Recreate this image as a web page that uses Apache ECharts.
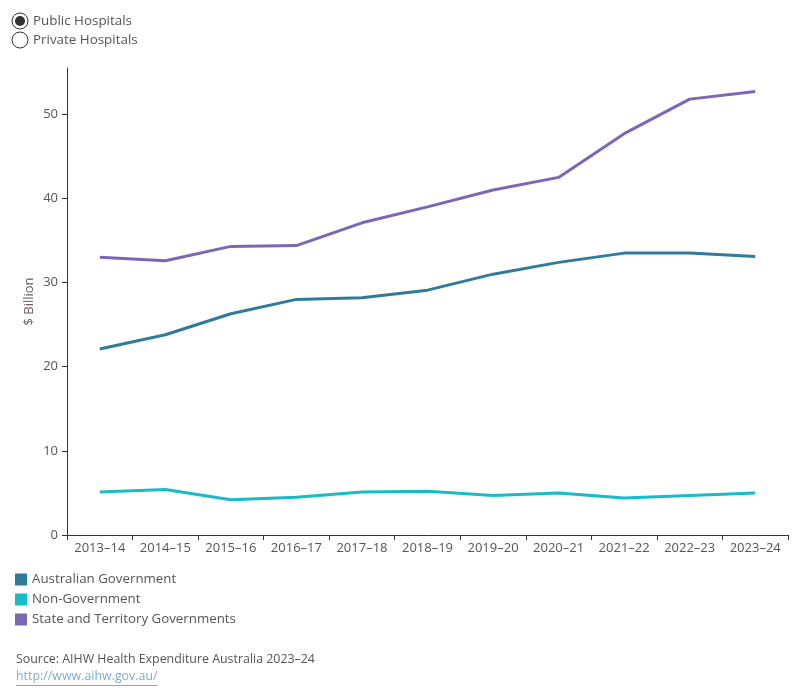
<!DOCTYPE html>
<html>
<head>
<meta charset="utf-8">
<script src="https://cdn.jsdelivr.net/npm/echarts@6/dist/echarts.min.js"></script>
<style>
html,body{margin:0;padding:0;background:#fff;}
#chart{width:800px;height:700px;}
</style>
</head>
<body>
<div id="chart"></div>
<script>
const categories = ['2013–14','2014–15','2015–16','2016–17','2017–18','2018–19','2019–20','2020–21','2021–22','2022–23','2023–24'];
const australianGovernment = [22.1, 23.8, 26.3, 28.0, 28.2, 29.1, 31.0, 32.4, 33.5, 33.5, 33.1];
const nonGovernment = [5.1, 5.4, 4.2, 4.5, 5.1, 5.2, 4.7, 5.0, 4.4, 4.7, 5.0];
const stateTerritory = [33.0, 32.6, 34.3, 34.4, 37.1, 39.0, 41.0, 42.5, 47.7, 51.8, 52.7];
const yTicks = [0, 10, 20, 30, 40, 50];
const seriesNames = ['Australian Government', 'Non-Government', 'State and Territory Governments'];
const colors = ['#2E7C99', '#17BCC8', '#7B67B5'];
const radioLabels = ['Public Hospitals', 'Private Hospitals'];
const sourceText = 'Source: AIHW Health Expenditure Australia 2023–24';
const linkText = 'http://www.aihw.gov.au/';

const FONT = 'Open Sans';
const chart = echarts.init(document.getElementById('chart'), null, {renderer: 'canvas'});

const seriesData = [australianGovernment, nonGovernment, stateTerritory];

const srcFont = '12.4px "' + FONT + '"';
const mctx = document.createElement('canvas').getContext('2d');
mctx.font = srcFont;
const linkWidth = mctx.measureText(linkText).width;

const option = {
  animation: false,
  textStyle: {fontFamily: FONT},
  grid: {left: 67, right: 12, top: 68, bottom: 165, containLabel: false},
  legend: {
    orient: 'vertical', left: 10, top: 568,
    icon: 'rect', itemWidth: 12, itemHeight: 12, itemGap: 7,
    textStyle: {fontFamily: FONT, fontSize: 13.3, color: '#555'},
    data: seriesNames, selectedMode: false
  },
  xAxis: {
    type: 'category', data: categories, boundaryGap: true,
    axisLine: {lineStyle: {color: '#333', width: 1}},
    axisTick: {show: true, length: 5, lineStyle: {color: '#333'}},
    axisLabel: {fontFamily: FONT, fontSize: 13, color: '#555', margin: 7, interval: 0}
  },
  yAxis: {
    type: 'value', min: 0, max: 55.5,
    name: '$ Billion', nameLocation: 'middle', nameGap: 31, nameRotate: 90,
    nameMoveOverlap: false,
    nameTextStyle: {fontFamily: FONT, fontSize: 13, color: '#6a6060'},
    splitLine: {show: false},
    axisLine: {show: true, lineStyle: {color: '#333', width: 1}},
    axisTick: {show: true, length: 5, lineStyle: {color: '#333'}, customValues: yTicks},
    axisLabel: {fontFamily: FONT, fontSize: 13, color: '#555', margin: 9, customValues: yTicks}
  },
  series: seriesNames.map((n, i) => ({
    name: n, type: 'line', data: seriesData[i],
    symbol: 'none', showSymbol: false,
    lineStyle: {width: 3, color: colors[i]},
    itemStyle: {color: colors[i]}
  })),
  graphic: [
    {type: 'circle', shape: {cx: 20, cy: 21, r: 8}, style: {fill: '#fff', stroke: '#333', lineWidth: 1}},
    {type: 'circle', shape: {cx: 20, cy: 21, r: 5}, style: {fill: '#333'}},
    {type: 'circle', shape: {cx: 20, cy: 40, r: 8}, style: {fill: '#fff', stroke: '#333', lineWidth: 1}},
    {type: 'text', left: 33, top: 15, style: {text: radioLabels[0], font: '13.4px "' + FONT + '"', fill: '#555'}},
    {type: 'text', left: 33, top: 34, style: {text: radioLabels[1], font: '13.4px "' + FONT + '"', fill: '#555'}},
    {type: 'text', left: 16, top: 653, style: {text: sourceText, font: srcFont, fill: '#555'}},
    {type: 'text', left: 16, top: 670, style: {text: linkText, font: srcFont, fill: '#7aaed0'}},
    {type: 'line', shape: {x1: 16, y1: 685.5, x2: 16 + linkWidth, y2: 685.5}, style: {stroke: '#7aaed0', lineWidth: 1}}
  ]
};
chart.setOption(option);
</script>
</body>
</html>
